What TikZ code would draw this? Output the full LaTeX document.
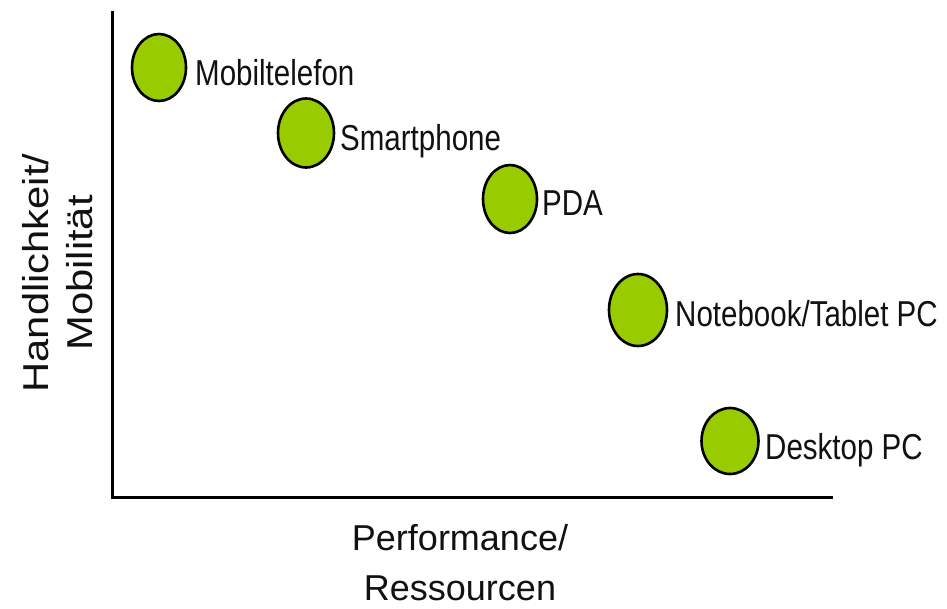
\documentclass[tikz,border=0pt]{standalone}
\usepackage{fontspec}
\setmainfont{Liberation Sans}
\newfontfamily\nodelabfont{Liberation Sans}[FakeStretch=0.82]
\newfontfamily\ylabfont{Liberation Sans}[FakeStretch=1.16]
\usetikzlibrary{shapes.geometric}
\definecolor{dotgreen}{HTML}{99CC00}
\definecolor{txt}{HTML}{111111}
\tikzset{
  dev/.style={ellipse, draw=black, line width=2.6pt, fill=dotgreen, inner sep=0pt},
  devlab/.style={anchor=base west, inner sep=0pt, text=txt, font=\nodelabfont\fontsize{36}{40}\selectfont},
  axislab/.style={inner sep=0pt, text=txt, font=\fontsize{36}{40}\selectfont},
  ylab/.style={inner sep=0pt, text=txt, rotate=90, anchor=base, font=\ylabfont\fontsize{36}{40}\selectfont},
  axisline/.style={line width=3pt, black}
}
\begin{document}
\begin{tikzpicture}[x=1pt,y=-1pt]
\useasboundingbox (0,0) rectangle (947,608);
% axes
\coordinate (ytop) at (112,11);
\coordinate (xend) at (833,497);
\draw[axisline] (ytop) |- (xend);
% devices
\node[dev, minimum width=54pt, minimum height=67pt] (mob) at (159,67.5) {};
\node[dev, minimum width=56pt, minimum height=69pt] (smart) at (306,133) {};
\node[dev, minimum width=54pt, minimum height=68pt] (pda) at (510,199) {};
\node[dev, minimum width=58pt, minimum height=72pt] (note) at (638,310) {};
\node[dev, minimum width=57pt, minimum height=66pt] (desk) at (730,441) {};
% labels
\node[devlab] (moblab) at (195,85) {Mobiltelefon};
\node[devlab] (smartlab) at (340,150) {Smartphone};
\node[devlab] (pdalab) at (542,215) {PDA};
\node[devlab] (notelab) at (675,326) {Notebook/Tablet PC};
\node[devlab] (desklab) at (765,459) {Desktop PC};
% axis labels
\node[axislab, anchor=base] (xlab1) at (460,550) {Performance/};
\node[axislab, anchor=base] (xlab2) at (460,600) {Ressourcen};
\node[ylab] (ylab1) at (48,273) {Handlichkeit/};
\node[ylab] (ylab2) at (92,273) {Mobilität};
\end{tikzpicture}
\end{document}
